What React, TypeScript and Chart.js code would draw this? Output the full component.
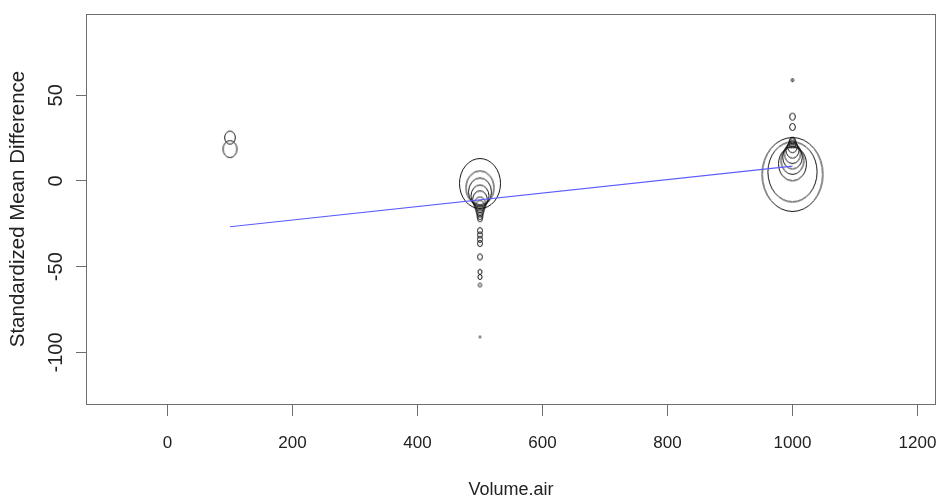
import React, { useEffect, useRef } from "react";
import { Chart, registerables } from "chart.js";

Chart.register(...registerables);

// ---- Data ----
const volumeAir = [
  100, 100,
  500, 500, 500, 500, 500, 500, 500, 500, 500, 500, 500, 500, 500, 500, 500, 500, 500, 500, 500, 500,
  1000, 1000, 1000, 1000, 1000, 1000, 1000, 1000, 1000, 1000, 1000, 1000, 1000,
];
const smd = [
  25.3, 18.6,
  -1.5, -4, -6.4, -8.8, -11, -13.4, -15, -17, -18.7, -20.4, -22, -29, -31.5, -34, -36.5, -44.3, -53, -56, -60.7, -91,
  3.8, 5.3, 10, 12, 14, 16, 18, 20, 22, 23.5, 31.5, 37.5, 58.8,
];
const weights = [
  6.5, 8.5,
  25, 17, 14, 11, 9, 7, 6, 5, 4, 3.5, 3, 3, 3, 3, 3, 3, 2.5, 2.5, 2, 1,
  37, 30, 17, 14, 12, 10, 8, 6, 4.5, 3.5, 3.5, 3.5, 1.5,
];
const regX = [100, 1000];
const regY = [-26.7, 8.7];

const xTicks = [0, 200, 400, 600, 800, 1000, 1200];
const yTicks = [-100, -50, 0, 50];

const xTitle = "Volume.air";
const yTitle = "Standardized Mean Difference";

// ---- Styling ----
const ASPECT = 0.82;
const AXIS_COLOR = "#6e6e6e";
const TEXT_COLOR = "#222222";
const MARK_COLOR = "#161616";
const FONT = '"Liberation Sans", Arial, sans-serif';

const ellipseCache = new Map<number, HTMLCanvasElement>();
function ellipseImage(r: number): HTMLCanvasElement {
  const hit = ellipseCache.get(r);
  if (hit) return hit;
  const ry = r;
  const rx = r * ASPECT;
  const c = document.createElement("canvas");
  const W = Math.ceil(2 * rx + 3);
  const H = Math.ceil(2 * ry + 3);
  c.width = W;
  c.height = H;
  const g = c.getContext("2d")!;
  g.strokeStyle = MARK_COLOR;
  g.lineWidth = 1;
  g.beginPath();
  g.ellipse(W / 2, H / 2, rx, ry, 0, 0, Math.PI * 2);
  g.stroke();
  ellipseCache.set(r, c);
  return c;
}

const boxPlugin = {
  id: "plotBox",
  afterDatasetsDraw(chart: any) {
    const { ctx, chartArea } = chart;
    ctx.save();
    ctx.strokeStyle = AXIS_COLOR;
    ctx.lineWidth = 1;
    ctx.strokeRect(
      Math.round(chartArea.left) + 0.5,
      Math.round(chartArea.top) + 0.5,
      Math.round(chartArea.right - chartArea.left) - 1,
      Math.round(chartArea.bottom - chartArea.top)
    );
    ctx.restore();
  },
};

export default function App() {
  const ref = useRef<HTMLCanvasElement | null>(null);

  useEffect(() => {
    if (!ref.current) return;
    const bubbles = volumeAir.map((x, i) => ({ x, y: smd[i], r: weights[i] }));
    const reg = regX.map((x, i) => ({ x, y: regY[i] }));

    const chart = new Chart(ref.current, {
      type: "bubble",
      data: {
        datasets: [
          {
            type: "line",
            label: "fit",
            data: reg as any,
            borderColor: "#5c5cff",
            borderWidth: 1.2,
            pointRadius: 0,
            fill: false,
            order: 0,
          } as any,
          {
            type: "bubble",
            label: "studies",
            data: bubbles,
            pointStyle: (ctx: any) => ellipseImage(ctx.raw ? ctx.raw.r : 1),
            backgroundColor: "rgba(0,0,0,0)",
            borderColor: MARK_COLOR,
            borderWidth: 1,
            order: 1,
          } as any,
        ],
      },
      options: {
        responsive: false,
        animation: false,
        devicePixelRatio: 1,
        layout: { autoPadding: false, padding: { left: 0, right: 0, top: 14, bottom: 0 } },
        plugins: {
          legend: { display: false },
          tooltip: { enabled: false },
        },
        scales: {
          x: {
            type: "linear",
            position: "bottom",
            min: -130.4,
            max: 1229.6,
            afterBuildTicks: (s: any) => {
              s.ticks = xTicks.map((v) => ({ value: v }));
            },
            afterFit: (s: any) => {
              s.height = 94;
              s.paddingLeft = 0;
              s.paddingRight = 0;
            },
            grid: {
              display: true,
              drawOnChartArea: false,
              drawTicks: true,
              tickLength: 12,
              color: AXIS_COLOR,
              tickColor: AXIS_COLOR,
            },
            border: { display: false },
            ticks: {
              autoSkip: false,
              maxRotation: 0,
              padding: 17,
              color: TEXT_COLOR,
              font: { family: FONT, size: 17 },
              callback: (v: any) => String(v),
            },
            title: {
              display: true,
              text: xTitle,
              color: TEXT_COLOR,
              font: { family: FONT, size: 18, lineHeight: 1 },
              padding: { top: 0, bottom: -1 },
            },
          },
          y: {
            type: "linear",
            position: "left",
            min: -130.1,
            max: 97.4,
            afterBuildTicks: (s: any) => {
              s.ticks = yTicks.map((v) => ({ value: v }));
            },
            afterFit: (s: any) => {
              s.width = 86;
              s.paddingTop = 0;
              s.paddingBottom = 0;
            },
            grid: {
              display: true,
              drawOnChartArea: false,
              drawTicks: true,
              tickLength: 10,
              color: AXIS_COLOR,
              tickColor: AXIS_COLOR,
            },
            border: { display: false },
            ticks: {
              autoSkip: false,
              minRotation: 90,
              maxRotation: 90,
              crossAlign: "center",
              padding: 0,
              color: TEXT_COLOR,
              font: { family: FONT, size: 20 },
              callback: (v: any) => String(v),
            },
            title: {
              display: true,
              text: yTitle,
              color: TEXT_COLOR,
              font: { family: FONT, size: 20.5, lineHeight: 1.2 },
              padding: { top: 6, bottom: 0 },
            },
          },
        },
      } as any,
      plugins: [boxPlugin],
    });
    return () => chart.destroy();
  }, []);

  return (
    <div style={{ position: "fixed", left: 0, top: 0, width: 936, height: 498, background: "#ffffff" }}>
      <canvas ref={ref} width={936} height={498} style={{ display: "block" }} />
    </div>
  );
}
